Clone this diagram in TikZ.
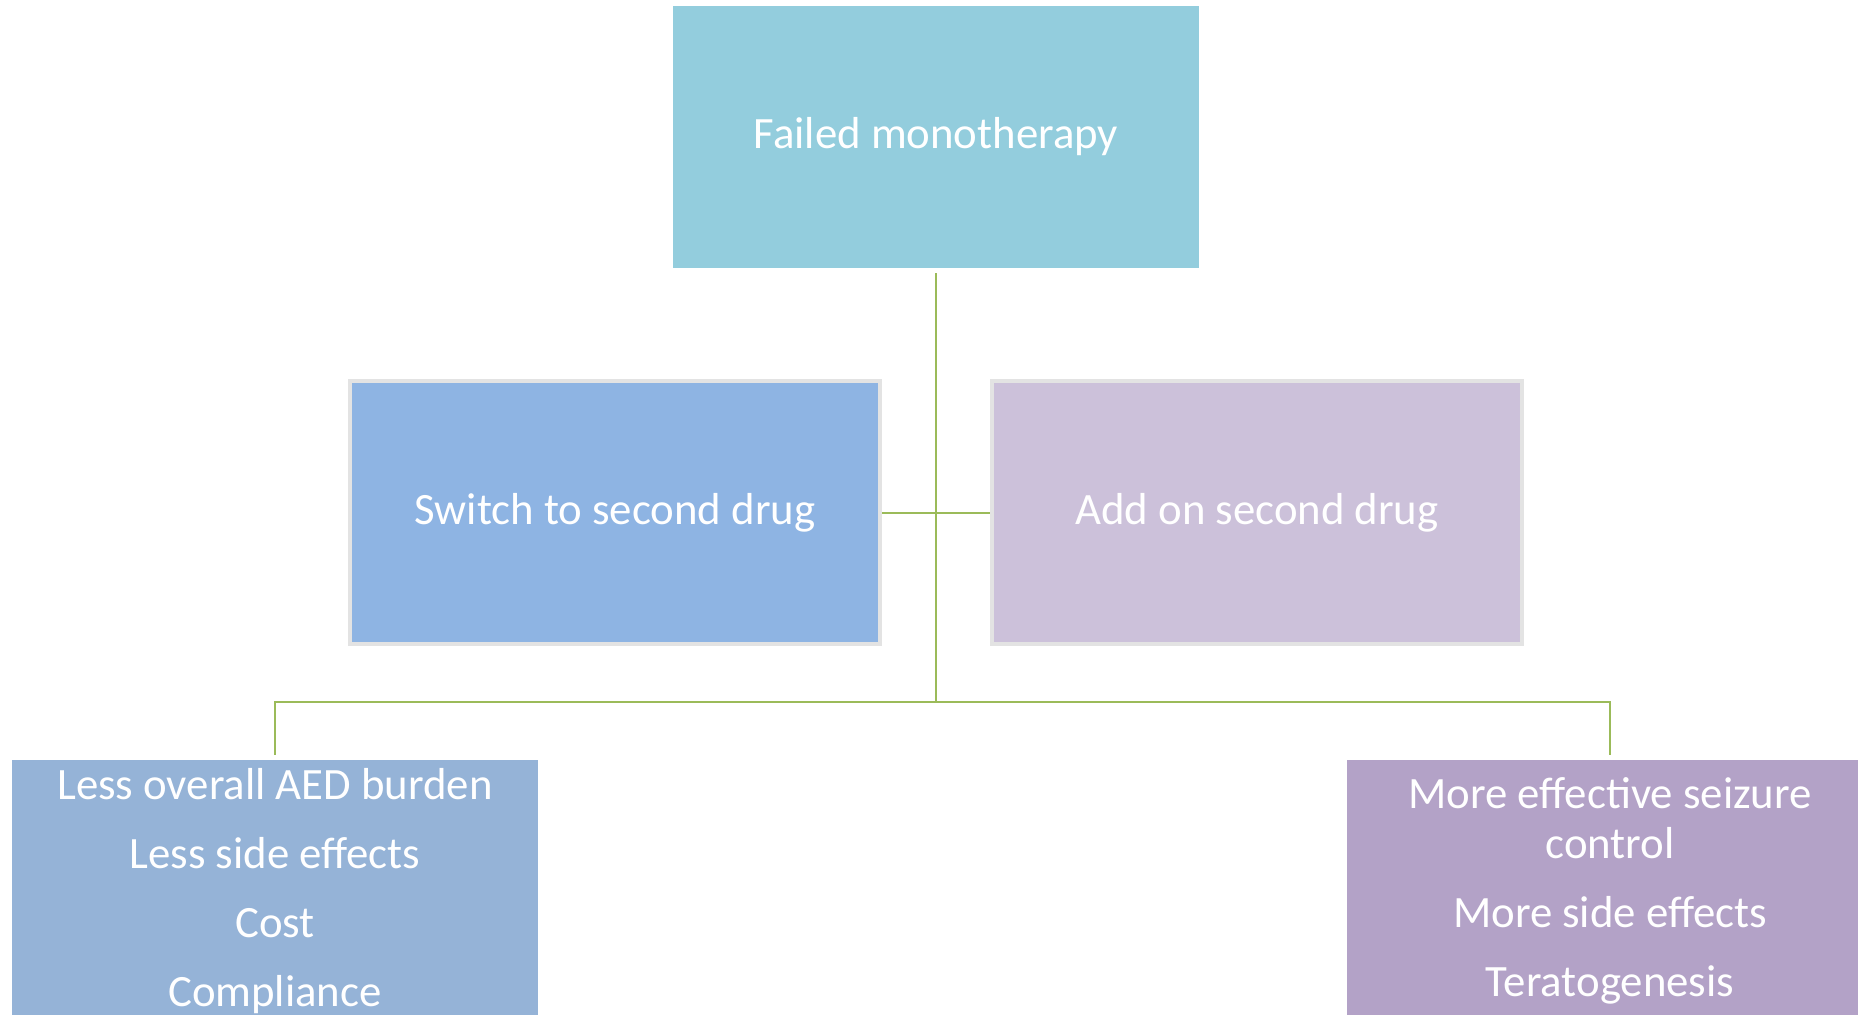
\documentclass[tikz,border=0pt]{standalone}
\usepackage{fontspec}
\setmainfont{Carlito}
\definecolor{topblue}{HTML}{93CDDD}
\definecolor{switchblue}{HTML}{8EB4E3}
\definecolor{addlilac}{HTML}{CCC1DA}
\definecolor{lessblue}{HTML}{95B3D7}
\definecolor{morelilac}{HTML}{B3A2C7}
\definecolor{linkgreen}{HTML}{9BBB59}
\definecolor{edgegray}{HTML}{E3E3E3}
\tikzset{
    box/.style={rectangle, text=white, font=\fontsize{22.4}{25}\selectfont,
        align=center, inner sep=0pt},
    choice/.style={box, draw=edgegray, line width=2pt,
        minimum width=265pt, minimum height=131.5pt},
    outcome/.style={box, minimum width=263pt, minimum height=131pt},
    link/.style={draw=linkgreen, line width=1.2pt}
}
\begin{document}
\begin{tikzpicture}[x=0.5pt,y=-0.5pt]
        \useasboundingbox[fill=white] (0,0) rectangle (1858,1015);
        % top of the tree
        \node[outcome, fill=topblue] (failed) at (936,137) {Failed monotherapy};
        % the two choices
        \node[choice, fill=switchblue] (switch) at (615,513) {Switch to second drug};
        \node[choice, fill=addlilac] (addon) at (1257,513) {Add on second drug};
        % what follows
        \node[outcome, fill=lessblue] (less) at (275,891)
            {Less overall AED burden\\[9.5pt]Less side effects\\[9.5pt]Cost\\[9.5pt]Compliance};
        \node[outcome, fill=morelilac] (more) at (1610,891)
            {More effective seizure\\control\\[9.5pt]More side effects\\[9.5pt]Teratogenesis};
        \coordinate (split) at (936,702);
        \draw[link] ([yshift=-2.5pt]failed.south) -- (split);
        \draw[link] (switch.east) -- (addon.west);
        \draw[link] ([yshift=2.5pt]less.north) -- (less.north |- split)
            -- (more.north |- split) -- ([yshift=2.5pt]more.north);
    \end{tikzpicture}
\end{document}
